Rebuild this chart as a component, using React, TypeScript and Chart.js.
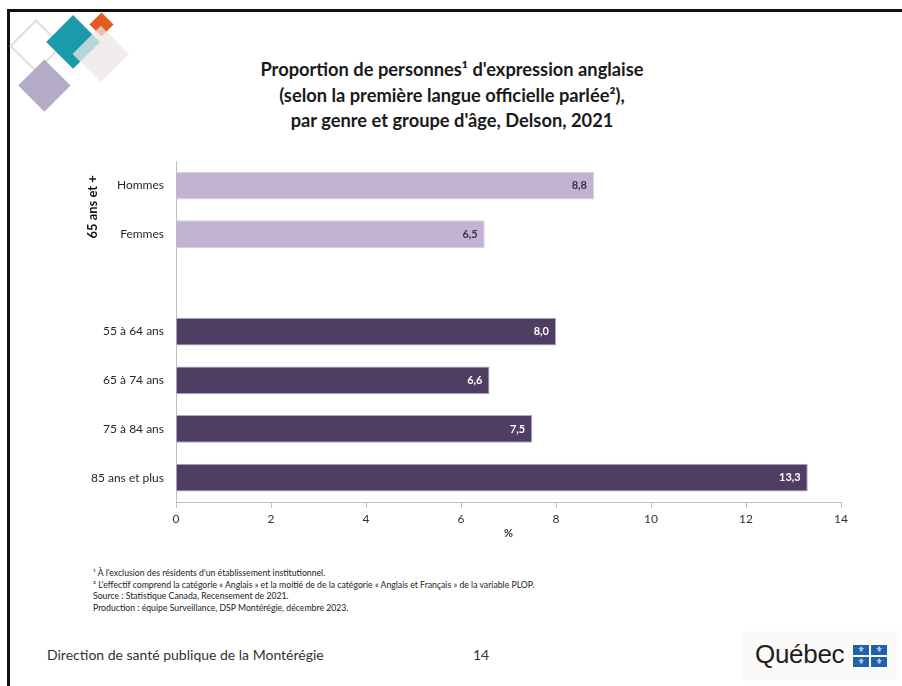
import React, { useEffect, useRef } from "react";
import { Chart, registerables } from "chart.js";

Chart.register(...registerables);

const FONT = "Lato, 'Open Sans', sans-serif";

const categories = ["Hommes", "Femmes", "", "55 à 64 ans", "65 à 74 ans", "75 à 84 ans", "85 ans et plus"];
const genderValues = [8.8, 6.5, null, null, null, null, null];
const ageValues = [null, null, null, 8.0, 6.6, 7.5, 13.3];
const xTicks = [0, 2, 4, 6, 8, 10, 12, 14];
const groupLabel = "65 ans et +";

const titleLines = [
  "Proportion de personnes¹ d'expression anglaise",
  "(selon la première langue officielle parlée²),",
  "par genre et groupe d'âge, Delson, 2021",
];
const footnotes = [
  "¹ À l'exclusion des résidents d'un établissement institutionnel.",
  "² L'effectif comprend la catégorie « Anglais » et la moitié de de la catégorie « Anglais et Français » de la variable PLOP.",
  "Source : Statistique Canada, Recensement de 2021.",
  "Production : équipe Surveillance, DSP Montérégie, décembre 2023.",
];
const footerLeft = "Direction de santé publique de la Montérégie";
const pageNumber = "14";

const barLabelPlugin = {
  id: "barLabels",
  afterDatasetsDraw(chart: any) {
    const ctx = chart.ctx;
    chart.data.datasets.forEach((ds: any, di: number) => {
      const meta = chart.getDatasetMeta(di);
      meta.data.forEach((bar: any, i: number) => {
        const v = ds.data[i];
        if (v == null) return;
        ctx.save();
        ctx.font = `bold 11px ${FONT}`;
        ctx.fillStyle = di === 0 ? "#3a3148" : "#ffffff";
        ctx.textAlign = "right";
        ctx.textBaseline = "middle";
        ctx.fillText(v.toFixed(1).replace(".", ","), bar.x - 7, bar.y);
        ctx.restore();
      });
    });
    const yScale = chart.scales.y;
    const yc = (yScale.getPixelForValue(0) + yScale.getPixelForValue(1)) / 2 - 3;
    ctx.save();
    ctx.translate(93, yc);
    ctx.rotate(-Math.PI / 2);
    ctx.font = `bold 13px ${FONT}`;
    ctx.fillStyle = "#111";
    ctx.textAlign = "center";
    ctx.textBaseline = "middle";
    ctx.fillText(groupLabel, 0, 0);
    ctx.restore();
  },
};

function ChartBox() {
  const ref = useRef<HTMLCanvasElement>(null);
  useEffect(() => {
    if (!ref.current) return;
    const chart = new Chart(ref.current, {
      type: "bar",
      data: {
        labels: categories,
        datasets: [
          {
            label: "Genre",
            data: genderValues,
            backgroundColor: "#c3b3d2",
            borderColor: "#d6cce2",
            borderWidth: 1,
            barPercentage: 0.57,
            categoryPercentage: 1,
          },
          {
            label: "Groupe d'âge",
            data: ageValues,
            backgroundColor: "#4f3d63",
            borderColor: "#b4a5c8",
            borderWidth: 1,
            barPercentage: 0.57,
            categoryPercentage: 1,
          },
        ],
      },
      options: {
        indexAxis: "y",
        responsive: false,
        animation: false,
        devicePixelRatio: 1,
        layout: { padding: { left: 0, right: 29, top: 2, bottom: 0 } },
        plugins: { legend: { display: false }, tooltip: { enabled: false }, title: { display: false } },
        scales: {
          x: {
            stacked: true,
            min: 0,
            max: 14,
            afterFit: (s: any) => {
              s.height = 48;
            },
            afterBuildTicks: (s: any) => {
              s.ticks = xTicks.map((v) => ({ value: v }));
            },
            grid: { display: true, drawOnChartArea: false, drawTicks: true, tickLength: 6, color: "#bfbfbf" },
            border: { display: true, color: "#bfbfbf" },
            ticks: { padding: 4, color: "#333", font: { family: FONT, size: 12 } },
            title: {
              display: true,
              text: "%",
              color: "#333",
              font: { family: FONT, size: 11, weight: "bold" },
              padding: { top: 0, bottom: 10 },
            },
          },
          y: {
            stacked: true,
            afterFit: (s: any) => {
              s.width = 176;
            },
            grid: { display: false, drawTicks: false },
            border: { display: true, color: "#bfbfbf" },
            ticks: { padding: 12, color: "#262626", font: { family: FONT, size: 12 } },
          },
        },
      },
      plugins: [barLabelPlugin],
    });
    return () => chart.destroy();
  }, []);
  return (
    <canvas
      ref={ref}
      width={870}
      height={408}
      style={{ position: "absolute", left: 0, top: 142, width: 870, height: 408 }}
    />
  );
}

function Diamond({ cx, cy, half, bg, border, opacity }: any) {
  const side = half * Math.SQRT2;
  return (
    <div
      style={{
        position: "absolute",
        left: cx - side / 2,
        top: cy - side / 2,
        width: side,
        height: side,
        background: bg,
        border: border,
        boxSizing: "border-box",
        opacity: opacity ?? 1,
        transform: "rotate(45deg)",
      }}
    />
  );
}

export default function App() {
  return (
    <div
      style={{
        position: "fixed",
        left: 0,
        top: 0,
        width: 902,
        height: 686,
        background: "#fff",
        overflow: "hidden",
        fontFamily: FONT,
      }}
    >
      <div style={{ position: "absolute", left: 7, top: 9, width: 895, height: 3, background: "#111" }} />
      <div style={{ position: "absolute", left: 7, top: 9, width: 3, height: 677, background: "#111" }} />

      <Diamond cx={36} cy={46} half={27} bg="transparent" border="2px solid #dde2d6" />
      <Diamond cx={73} cy={42} half={27} bg="#1b9aa9" />
      <Diamond cx={101} cy={24} half={12} bg="#e35b1f" />
      <Diamond cx={101} cy={54} half={28} bg="#ece7e6" opacity={0.75} />
      <Diamond cx={44} cy={85} half={26} bg="#b4abc7" />

      <div
        style={{
          position: "absolute",
          left: 152,
          top: 57,
          width: 600,
          textAlign: "center",
          fontWeight: "bold",
          fontSize: 18.3,
          lineHeight: "25.5px",
          color: "#1a1a1a",
        }}
      >
        {titleLines.map((t, i) => (
          <div key={i}>{t}</div>
        ))}
      </div>

      <ChartBox />

      <div
        style={{
          position: "absolute",
          left: 93,
          top: 567,
          fontSize: 8.7,
          lineHeight: "11.7px",
          color: "#222",
          whiteSpace: "nowrap",
        }}
      >
        {footnotes.map((t, i) => (
          <div key={i}>{t}</div>
        ))}
      </div>

      <div style={{ position: "absolute", left: 47, top: 646, fontSize: 14, color: "#333", whiteSpace: "nowrap" }}>
        {footerLeft}
      </div>
      <div style={{ position: "absolute", left: 473, top: 646, fontSize: 14, color: "#333" }}>{pageNumber}</div>

      <div style={{ position: "absolute", left: 742, top: 631, width: 158, height: 50, background: "#fbfaf8" }} />
      <div
        style={{
          position: "absolute",
          left: 755,
          top: 639,
          fontSize: 26,
          fontFamily: "'Liberation Sans', sans-serif",
          color: "#1e1e1e",
          letterSpacing: -0.3,
        }}
      >
        Québec
      </div>
      {[0, 1].map((r) =>
        [0, 1].map((c) => (
          <div
            key={`${r}-${c}`}
            style={{
              position: "absolute",
              left: 853 + c * 18,
              top: 645 + r * 12,
              width: 16,
              height: 10,
              background: "#2160ad",
              color: "#fff",
              fontSize: 8,
              lineHeight: "10px",
              textAlign: "center",
              fontFamily: "'DejaVu Sans', sans-serif",
            }}
          >
            ⚜
          </div>
        ))
      )}
    </div>
  );
}
